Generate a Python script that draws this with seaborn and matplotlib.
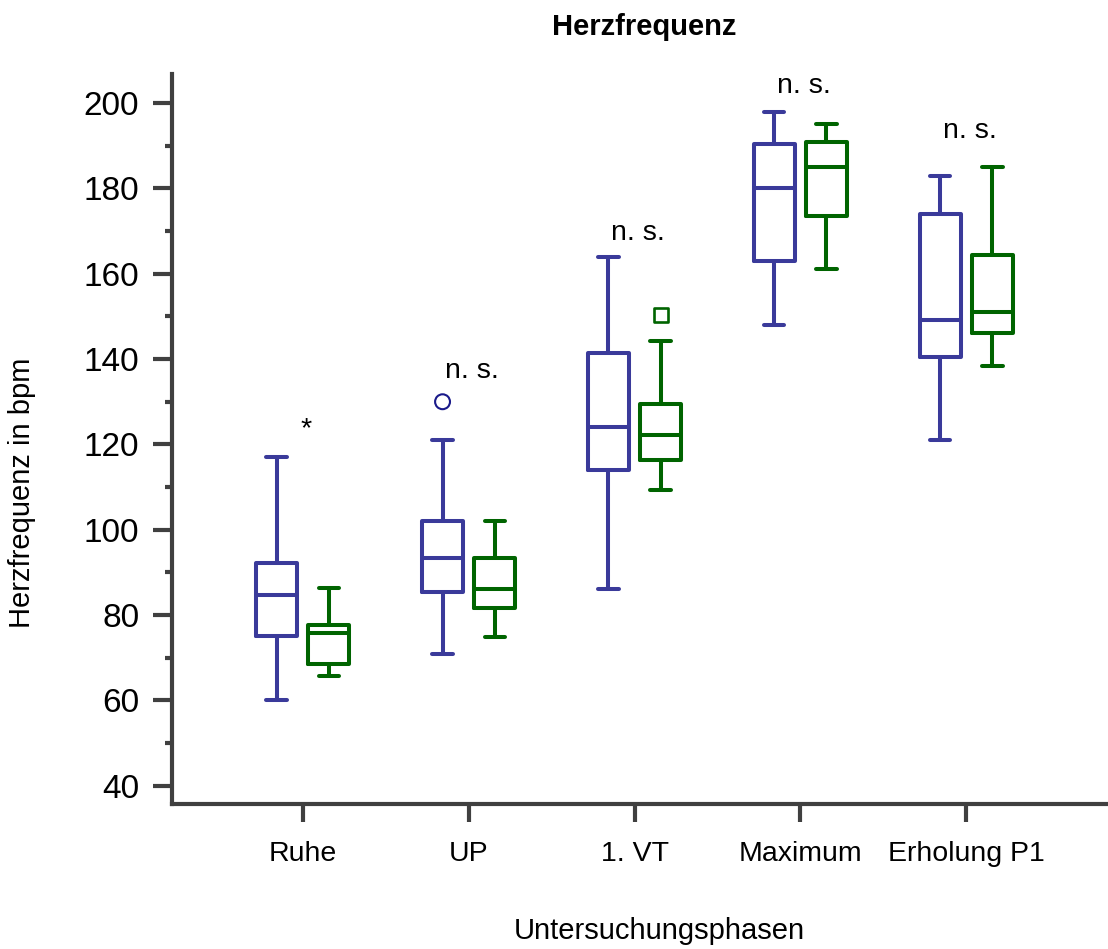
import numpy as np
import pandas as pd
import matplotlib
matplotlib.use("Agg")
import matplotlib.pyplot as plt
from matplotlib.ticker import MultipleLocator
import seaborn as sns

# Study phases and the two compared groups
phases = ["Ruhe", "UP", "1. VT", "Maximum", "Erholung P1"]
groups = ["Gruppe 1", "Gruppe 2"]

# Five-number summaries (whisker low, Q1, median, Q3, whisker high) in bpm
g1_low = [60.0, 71.0, 86.0, 148.0, 121.0]
g1_q1 = [75.2, 85.4, 114.0, 163.0, 140.6]
g1_med = [84.6, 93.3, 124.0, 180.0, 149.2]
g1_q3 = [92.3, 102.0, 141.4, 190.4, 173.9]
g1_high = [117.0, 121.0, 164.0, 198.0, 183.0]

g2_low = [65.8, 74.8, 109.3, 161.2, 138.3]
g2_q1 = [68.6, 81.7, 116.4, 173.5, 146.0]
g2_med = [75.9, 86.0, 122.3, 185.0, 151.1]
g2_q3 = [77.7, 93.3, 129.5, 190.9, 164.4]
g2_high = [86.4, 102.0, 144.2, 195.1, 185.0]

# Single outliers: (phase, group, value)
outlier_phase = ["UP", "1. VT"]
outlier_group = ["Gruppe 1", "Gruppe 2"]
outlier_value = [130.0, 150.3]

# Significance labels per phase and their heights
sig_labels = ["*", "n. s.", "n. s.", "n. s.", "n. s."]
sig_y = [122.0, 135.6, 168.0, 202.4, 191.9]

colors = {"Gruppe 1": "#3a3a9a", "Gruppe 2": "#006400"}
outlier_colors = {"Gruppe 1": "#1a1a8a", "Gruppe 2": "#006400"}
outlier_markers = {"Gruppe 1": "o", "Gruppe 2": "s"}

rows = []
for grp, stats in [(groups[0], (g1_low, g1_q1, g1_med, g1_q3, g1_high)),
                   (groups[1], (g2_low, g2_q1, g2_med, g2_q3, g2_high))]:
    for i, ph in enumerate(phases):
        for arr in stats:
            rows.append({"Phase": ph, "Gruppe": grp, "HF": arr[i]})
df = pd.DataFrame(rows)

sns.set_style("ticks")
plt.rcParams["font.family"] = ["Liberation Sans", "DejaVu Sans"]
plt.rcParams["text.color"] = "black"
plt.rcParams["axes.labelcolor"] = "black"
spine_col = "#404040"

fig = plt.figure(figsize=(11.08, 9.49), dpi=100)
ax = fig.add_axes([0.1552, 0.1531, 0.8448, 0.7689])

box_width = 0.63
sns.boxplot(data=df, x="Phase", y="HF", hue="Gruppe", order=phases,
            hue_order=groups, palette=colors, fill=False, whis=(0, 100),
            width=box_width, gap=0.216, linewidth=2.9, legend=False,
            showfliers=False, ax=ax)

# Outliers at the dodged box positions
offsets = {groups[0]: -box_width / 4, groups[1]: box_width / 4}
for ph, grp, val in zip(outlier_phase, outlier_group, outlier_value):
    xpos = phases.index(ph) + offsets[grp]
    ax.scatter([xpos], [val], marker=outlier_markers[grp], s=115 if grp == groups[0] else 100,
               facecolors="none", edgecolors=outlier_colors[grp],
               linewidths=1.5 if grp == groups[0] else 1.9, zorder=5)

for i, (lab, yv) in enumerate(zip(sig_labels, sig_y)):
    ax.text(i + 0.02, yv, lab, ha="center", va="baseline", fontsize=20.5, color="black")

ax.set_xlim(-0.789, 4.855)
ax.set_ylim(35.8, 206.8)
ax.yaxis.set_major_locator(MultipleLocator(20))
ax.yaxis.set_minor_locator(MultipleLocator(10))

for side in ["top", "right"]:
    ax.spines[side].set_visible(False)
for side in ["left", "bottom"]:
    ax.spines[side].set_color(spine_col)
    ax.spines[side].set_linewidth(3.0)

ax.tick_params(axis="y", which="major", length=13.5, width=3.0, color=spine_col,
               labelsize=24, pad=10, labelcolor="black")
ax.tick_params(axis="y", which="minor", length=5, width=3.0, color=spine_col)
ax.tick_params(axis="x", which="major", length=13, width=3.0, color=spine_col,
               labelsize=20.5, pad=14, labelcolor="black")

ax.set_xlabel("Untersuchungsphasen", fontsize=21, color="black")
ax.set_ylabel("Herzfrequenz in bpm", fontsize=21, color="black")
ax.xaxis.set_label_coords(0.521, -0.155)
ax.yaxis.set_label_coords(-0.1453, 0.4265)
ax.set_title("Herzfrequenz", fontsize=21, fontweight="bold", color="black",
             x=0.504, pad=28)

fig.savefig("out.png", dpi=100)
